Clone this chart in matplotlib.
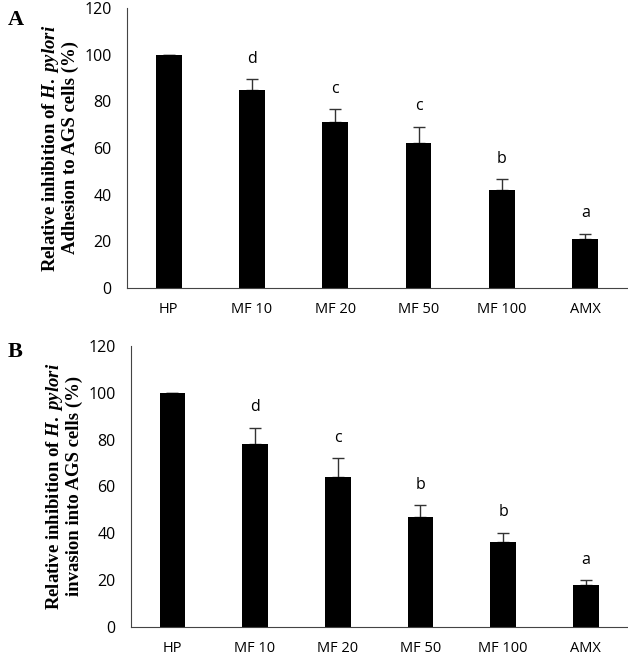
import matplotlib
matplotlib.use("Agg")
import matplotlib.pyplot as plt

# groups and values
groups = ["HP", "MF 10", "MF 20", "MF 50", "MF 100", "AMX"]

adhesion = [100, 85, 71, 62, 42, 21]
adhesion_err = [0, 4.5, 5.5, 7, 4.5, 2.3]
adhesion_letters = ["", "d", "c", "c", "b", "a"]

invasion = [100, 78, 64, 47, 36, 18]
invasion_err = [0, 7, 8, 5, 4.2, 1.8]
invasion_letters = ["", "d", "c", "b", "b", "a"]

yticks = [0, 20, 40, 60, 80, 100, 120]

plt.rcParams["mathtext.fontset"] = "custom"
plt.rcParams["mathtext.it"] = "Liberation Serif:italic:bold"
plt.rcParams["mathtext.rm"] = "Liberation Serif:bold"

fig = plt.figure(figsize=(6.28, 6.55), dpi=100)


def draw_panel(rect, vals, errs, letters, ylabel2, tag, tag_y):
    ax = fig.add_axes(rect)
    x = range(len(groups))
    ax.bar(x, vals, width=0.31, color="black", zorder=2)
    ax.errorbar(x, vals, yerr=[[0] * len(errs), errs], fmt="none",
                ecolor="#333333", elinewidth=1, capsize=4.5, capthick=1, zorder=1)
    for i, (v, e, t) in enumerate(zip(vals, errs, letters)):
        if t:
            ax.annotate(t, (i, v + e), xytext=(0, 9), textcoords="offset points",
                        ha="center", va="bottom", fontsize=11.5, family="Open Sans")
    ax.set_xlim(-0.5, 5.5)
    ax.set_ylim(0, 120)
    ax.set_yticks(yticks)
    ax.set_xticks(list(x))
    ax.set_xticklabels(groups, family="Open Sans", fontsize=10.5)
    ax.set_yticklabels([str(t) for t in yticks], family="Open Sans", fontsize=11.5)
    ax.tick_params(axis="y", length=0, pad=11)
    ax.tick_params(axis="x", length=0, pad=10)
    for s in ["top", "right"]:
        ax.spines[s].set_visible(False)
    ax.spines["left"].set_color("#444444")
    ax.spines["bottom"].set_color("#444444")
    ax.set_ylabel(r"Relative inhibition of $H.\ pylori$" + "\n" + ylabel2,
                  family="Liberation Serif", fontweight="bold", fontsize=13.5,
                  linespacing=1.0, labelpad=4)
    fig.text(0.012, tag_y, tag, family="Liberation Serif", fontweight="bold",
             fontsize=16, va="top")
    return ax


draw_panel([0.2022, 0.5603, 0.796, 0.4275], adhesion, adhesion_err,
           adhesion_letters, "Adhesion to AGS cells (%)", "A", 0.985)
draw_panel([0.2086, 0.0432, 0.790, 0.4286], invasion, invasion_err,
           invasion_letters, "invasion into AGS cells (%)", "B", 0.478)

fig.savefig("out.png", dpi=100)
